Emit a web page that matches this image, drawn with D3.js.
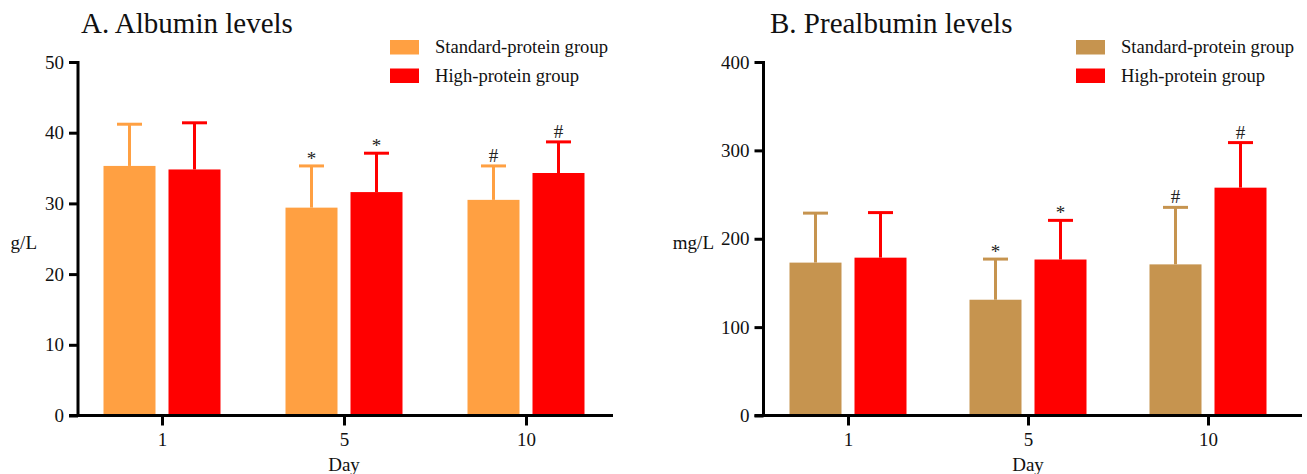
<!DOCTYPE html>
<html>
<head>
<meta charset="utf-8">
<script src="https://cdn.jsdelivr.net/npm/d3@7"></script>
<style>
  body { margin: 0; background: #fff; }
  svg { display: block; font-family: "Liberation Serif", "Times New Roman", serif; }
</style>
</head>
<body>
<div id="chart"></div>
<script>
// categories
const days = ['1', '5', '10'];
const seriesNames = ['Standard-protein group', 'High-protein group'];

// A. Albumin (g/L): mean and SD
const albStd = [35.3, 29.4, 30.5];
const albStdSd = [5.9, 5.9, 4.8];
const albHigh = [34.8, 31.6, 34.3];
const albHighSd = [6.6, 5.5, 4.4];
const albTicks = [0, 10, 20, 30, 40, 50];

// B. Prealbumin (mg/L): mean and SD
const preStd = [173, 131, 171];
const preStdSd = [56, 46, 64.5];
const preHigh = [178.6, 176.5, 257.8];
const preHighSd = [51, 44.3, 51];
const preTicks = [0, 100, 200, 300, 400];

// significance marks
const stdMarks = ['', '*', '#'];
const highMarks = ['', '*', '#'];

const svg = d3.select('#chart').append('svg')
    .attr('width', 1307)
    .attr('height', 474);

function drawPanel(cfg) {
  const g = svg.append('g');

  const y = d3.scaleLinear()
      .domain([0, cfg.ticks[cfg.ticks.length - 1]])
      .range([415.5, 62]);

  const x = d3.scalePoint()
      .domain(days)
      .range([cfg.xStart, cfg.xEnd])
      .padding(0.5);

  const barW = 52;
  const off = 32.5;

  const groups = [
    {vals: cfg.std, sd: cfg.stdSd, color: cfg.stdColor, dx: -off, marks: stdMarks},
    {vals: cfg.high, sd: cfg.highSd, color: '#ff0000', dx: off, marks: highMarks}
  ];

  groups.forEach(s => {
    const rows = days.map((d, i) => ({day: d, v: s.vals[i], sd: s.sd[i], mark: s.marks[i]}));

    // error bars (drawn first so bar covers the stem base)
    g.selectAll(null)
        .data(rows)
      .join('line')
        .attr('x1', d => x(d.day) + s.dx)
        .attr('x2', d => x(d.day) + s.dx)
        .attr('y1', d => y(d.v))
        .attr('y2', d => y(d.v + d.sd))
        .attr('stroke', s.color)
        .attr('stroke-width', 3);

    g.selectAll(null)
        .data(rows)
      .join('line')
        .attr('x1', d => x(d.day) + s.dx - 12.5)
        .attr('x2', d => x(d.day) + s.dx + 12.5)
        .attr('y1', d => y(d.v + d.sd))
        .attr('y2', d => y(d.v + d.sd))
        .attr('stroke', s.color)
        .attr('stroke-width', 3);

    g.selectAll(null)
        .data(rows)
      .join('rect')
        .attr('x', d => x(d.day) + s.dx - barW / 2)
        .attr('y', d => y(d.v))
        .attr('width', barW)
        .attr('height', d => y(0) - y(d.v))
        .attr('fill', s.color);

    g.selectAll(null)
        .data(rows.filter(d => d.mark))
      .join('text')
        .attr('x', d => x(d.day) + s.dx)
        .attr('y', d => y(d.v + d.sd) - (d.mark === '*' ? 1 : 4))
        .attr('text-anchor', 'middle')
        .attr('font-size', 19)
        .attr('fill', '#222')
        .text(d => d.mark);
  });

  // y axis
  const yAxis = g.append('g')
      .attr('transform', `translate(${cfg.axisX},0)`)
      .call(d3.axisLeft(y).tickValues(cfg.ticks).tickSize(9).tickPadding(5).tickSizeOuter(0));
  yAxis.select('.domain').remove();
  yAxis.selectAll('.tick line').attr('stroke', '#000').attr('stroke-width', 3);
  yAxis.selectAll('.tick text')
      .attr('font-family', '"Liberation Serif", "Times New Roman", serif')
      .attr('font-size', 19)
      .attr('fill', '#111');

  g.append('line')
      .attr('x1', cfg.axisX).attr('x2', cfg.axisX)
      .attr('y1', 61).attr('y2', 417)
      .attr('stroke', '#000').attr('stroke-width', 3);

  // x axis
  const xAxis = g.append('g')
      .attr('transform', 'translate(0,415.5)')
      .call(d3.axisBottom(x).tickSize(10).tickPadding(7).tickSizeOuter(0));
  xAxis.select('.domain').remove();
  xAxis.selectAll('.tick line').attr('stroke', '#000').attr('stroke-width', 3);
  xAxis.selectAll('.tick text')
      .attr('font-family', '"Liberation Serif", "Times New Roman", serif')
      .attr('font-size', 19)
      .attr('fill', '#111');

  g.append('line')
      .attr('x1', cfg.axisX - 9).attr('x2', cfg.xLineEnd)
      .attr('y1', 415.5).attr('y2', 415.5)
      .attr('stroke', '#000').attr('stroke-width', 3);

  // axis titles
  g.append('text')
      .attr('x', x('5'))
      .attr('y', 471)
      .attr('text-anchor', 'middle')
      .attr('font-size', 19)
      .attr('fill', '#111')
      .text('Day');

  g.append('text')
      .attr('x', cfg.unitX)
      .attr('y', 249)
      .attr('text-anchor', 'end')
      .attr('font-size', 19)
      .attr('fill', '#111')
      .text(cfg.unit);

  // panel title
  g.append('text')
      .attr('x', cfg.titleX)
      .attr('y', 33)
      .attr('font-size', 29)
      .attr('fill', '#111')
      .text(cfg.title);

  // legend
  const leg = g.append('g')
      .attr('transform', `translate(${cfg.legendX},40)`);
  seriesNames.forEach((name, i) => {
    leg.append('rect')
        .attr('x', 0)
        .attr('y', i * 28.5)
        .attr('width', 29)
        .attr('height', 14.5)
        .attr('fill', i === 0 ? cfg.stdColor : '#ff0000');
    leg.append('text')
        .attr('x', 45)
        .attr('y', i * 28.5 + 13)
        .attr('font-size', 18.6)
        .attr('fill', '#111')
        .text(name);
  });
}

drawPanel({
  title: 'A. Albumin levels', titleX: 81, unit: 'g/L', unitX: 37,
  std: albStd, stdSd: albStdSd, high: albHigh, highSd: albHighSd,
  ticks: albTicks, stdColor: '#ffa042',
  axisX: 78, xStart: 71, xEnd: 617, xLineEnd: 613, legendX: 390
});

drawPanel({
  title: 'B. Prealbumin levels', titleX: 770, unit: 'mg/L', unitX: 714,
  std: preStd, stdSd: preStdSd, high: preHigh, highSd: preHighSd,
  ticks: preTicks, stdColor: '#c6944f',
  axisX: 763.5, xStart: 758, xEnd: 1298, xLineEnd: 1302, legendX: 1076
});
</script>
</body>
</html>
